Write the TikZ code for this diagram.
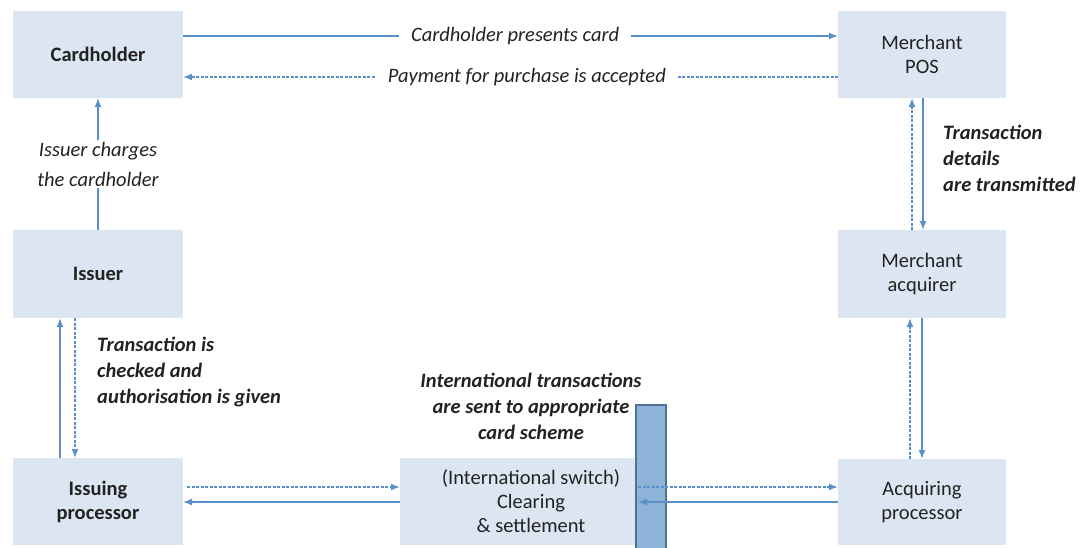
\documentclass[tikz,border=0pt]{standalone}
\usepackage{fontspec}
\setmainfont{Carlito}
\usetikzlibrary{arrows.meta}
\definecolor{boxfill}{HTML}{DCE6F2}
\definecolor{arr}{HTML}{5B8FC9}
\definecolor{barfill}{HTML}{8DB4D8}
\definecolor{bardraw}{HTML}{4F7394}
\definecolor{txt}{HTML}{222222}
\tikzset{
  box/.style={fill=boxfill, draw=none, text=txt, font=\fontsize{20.5}{24}\selectfont, align=center, inner sep=0pt},
  conn/.style={draw=arr, line width=1.6pt, -{Latex[length=9pt,width=7pt]}},
  dconn/.style={conn, dash pattern=on 3pt off 1.5pt},
  lbl/.style={text=txt, font=\fontsize{20.5}{26}\selectfont\itshape, inner xsep=12pt, inner ysep=2pt},
  blbl/.style={text=txt, font=\fontsize{20.5}{26}\selectfont\bfseries\itshape, inner sep=0pt},
}
\begin{document}
\begin{tikzpicture}[x=1pt,y=-1pt]
\useasboundingbox (0,0) rectangle (1083,547);
% boxes
\path[box] (13,11) rectangle (183,98);
\node[box, font=\fontsize{20.5}{24}\selectfont\bfseries] (ch) at (98,54.5) {Cardholder};
\path[box] (838,11) rectangle (1006,98);
\node[box] (pos) at (922,54.5) {Merchant\\POS};
\path[box] (13,230) rectangle (183,318);
\node[box, font=\fontsize{20.5}{24}\selectfont\bfseries] (iss) at (98,274) {Issuer};
\path[box] (838,230) rectangle (1006,318);
\node[box] (acq) at (922,274) {Merchant\\acquirer};
\path[box] (13,458) rectangle (183,545);
\node[box, font=\fontsize{20.5}{24}\selectfont\bfseries] (ip) at (98,501.5) {Issuing\\processor};
\path[box] (400,458) rectangle (640,545);
\node[box] (cs) at (531,501.5) {(International switch)\\Clearing\\\& settlement};
\path[box] (838,459) rectangle (1006,545);
\node[box] (ap) at (922,502) {Acquiring\\processor};
% bar
\path[fill=barfill, draw=bardraw, line width=1.2pt] (636,405) rectangle (666,550);
% top arrows
\draw[conn] (183,36) -- node[lbl, fill=white, pos=0.507] {Cardholder presents card} (838,36);
\draw[dconn] (838,77) -- node[lbl, fill=white, pos=0.475] {Payment for purchase is accepted} (183,77);
% issuer to cardholder
\draw[conn] (98,230) -- node[lbl, fill=white, align=center, inner xsep=2pt, font=\fontsize{20.5}{30}\selectfont\itshape] {Issuer charges\\the cardholder} (98,98);
% issuer <-> issuing processor
\draw[conn] (60,458) -- (60,318);
\draw[dconn] (75,318) -- (75,458);
\node[blbl, align=left, anchor=north west] (l1) at (97,337) {Transaction is\\checked and\\authorisation is given};
% POS <-> acquirer
\draw[dconn] (912,230) -- (912,98);
\draw[conn] (923,98) -- (923,230);
\node[blbl, align=left, anchor=north west] (l2) at (943,125) {Transaction\\details\\are transmitted};
% acquirer <-> acquiring processor
\draw[dconn] (910,459) -- (910,318);
\draw[conn] (922,318) -- (922,459);
% bottom
\draw[dconn] (187,487) -- (400,487);
\draw[conn] (400,502) -- (183,502);
\draw[dconn] (638,487) -- (838,487);
\draw[conn] (838,502) -- (638,502);
\node[blbl, align=center] (l3) at (531,406) {International transactions\\are sent to appropriate\\card scheme};
\end{tikzpicture}
\end{document}
